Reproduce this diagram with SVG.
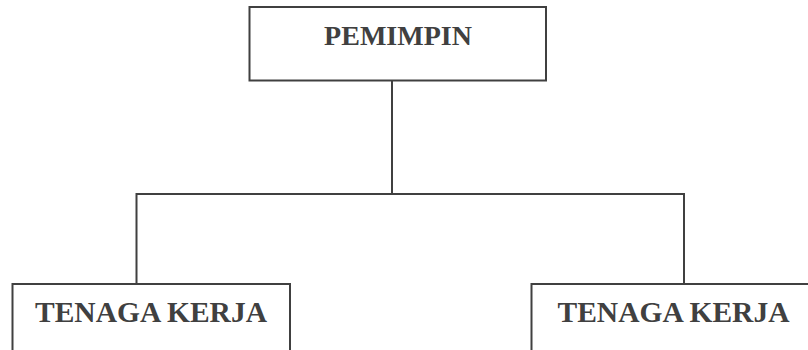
<svg xmlns="http://www.w3.org/2000/svg" width="808" height="350" viewBox="0 0 808 350">
<style>
.box{fill:#fff;stroke:#404040;stroke-width:2}
.ln{fill:none;stroke:#404040;stroke-width:2}
.t{font-family:"Liberation Serif","Times New Roman",serif;font-weight:bold;fill:#404040;text-anchor:middle}
</style>
<rect width="808" height="350" fill="#fff"/>
<g id="connectors">
<path class="ln" d="M392 81V194M136.5 194H684M136.5 193V284M684 193V284"/>
</g>
<g id="pemimpin">
<rect class="box" x="249.5" y="7" width="296.5" height="73.5"/>
<text class="t" x="398" y="45" font-size="28">PEMIMPIN</text>
</g>
<g id="tenaga-kerja-1">
<rect class="box" x="12.5" y="284" width="277.5" height="80"/>
<text class="t" x="151" y="322" font-size="29.5">TENAGA KERJA</text>
</g>
<g id="tenaga-kerja-2">
<rect class="box" x="531.5" y="284" width="290" height="80"/>
<text class="t" x="673.5" y="322" font-size="29.5">TENAGA KERJA</text>
</g>
</svg>
